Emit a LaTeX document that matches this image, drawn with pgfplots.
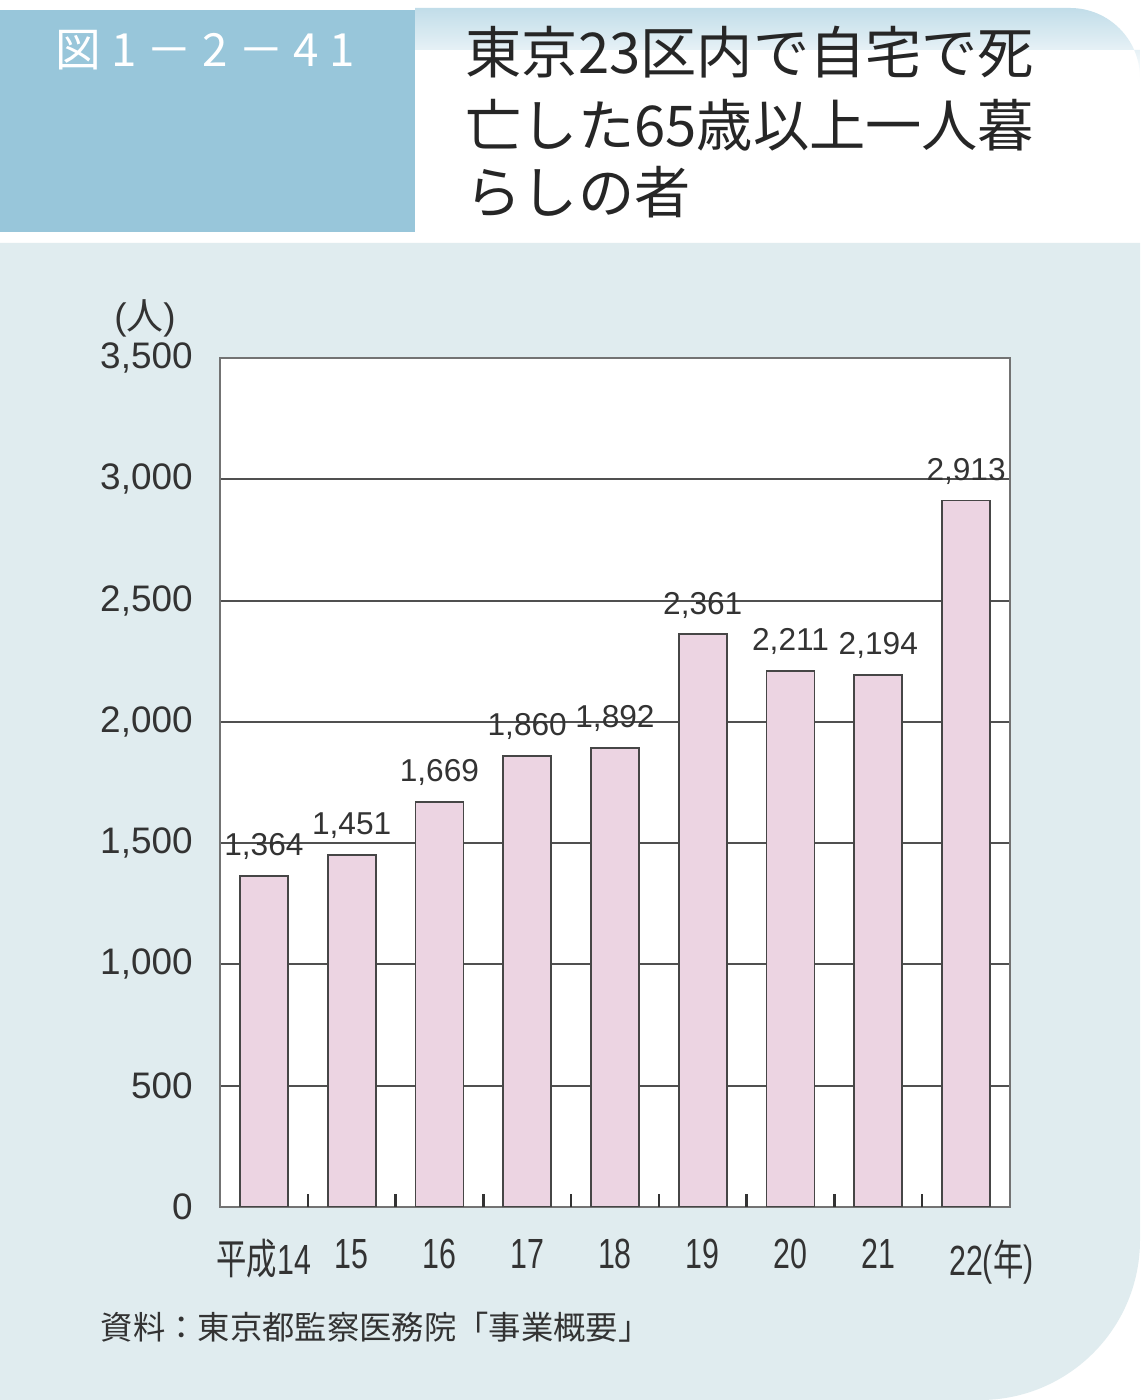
\documentclass[border=0pt]{standalone}
\usepackage{fontspec}
\setmainfont{Liberation Sans}
\newfontfamily\cjk{Noto Sans CJK JP}
\newfontfamily\cjkfig[LetterSpace=22]{Noto Sans CJK JP}
\usepackage{graphicx}
\usepackage{pgfplots}
\pgfplotsset{compat=1.18}

\definecolor{bgpanel}{RGB}{224,236,239}
\definecolor{hdrblue}{RGB}{152,198,218}
\definecolor{barpink}{RGB}{236,212,226}
\definecolor{txt}{RGB}{51,51,51}
\definecolor{gridc}{RGB}{80,80,80}

\newcommand{\xl}[1]{\scalebox{0.72}[1]{#1}}

\begin{document}
\begin{tikzpicture}
\path[use as bounding box] (0,0) rectangle (11.4,14);
\fill[white] (0,0) rectangle (11.4,14);
% header band and box
\shade[top color=hdrblue!60, bottom color=white]
  (4.15,13.5) -- (4.15,13.92) -- (10.7,13.92) arc[start angle=90,end angle=0,radius=0.7] -- (11.4,13.5) -- cycle;
\fill[hdrblue] (0,11.68) rectangle (4.15,13.9);
% main panel
\fill[bgpanel] (0,11.57) -- (11.4,11.57) -- (11.4,1.6)
  arc[start angle=0,end angle=-90,radius=1.6] -- (0,0) -- cycle;

\node[anchor=west, text=white, font={\cjkfig\fontsize{13}{13}\selectfont}, inner sep=0]
  at (0.55,13.50) {図1－2－41};
\node[anchor=west, text=black!85, font={\cjk\fontsize{16}{16}\selectfont}, inner sep=0]
  at (4.65,13.48) {東京23区内で自宅で死};
\node[anchor=west, text=black!85, font={\cjk\fontsize{16}{16}\selectfont}, inner sep=0]
  at (4.65,12.75) {亡した65歳以上一人暮};
\node[anchor=west, text=black!85, font={\cjk\fontsize{16}{16}\selectfont}, inner sep=0]
  at (4.65,12.08) {らしの者};

\node[text=txt, font=\fontsize{10.5}{12}\selectfont] at (1.45,10.82) {({\cjk 人})};

\begin{axis}[
  at={(2.20cm,1.93cm)}, anchor=south west,
  scale only axis, width=7.9cm, height=8.49cm,
  ybar, bar width=0.48cm,
  xmin=-0.5, xmax=8.5, ymin=0, ymax=3500,
  xtick={0,...,8},
  xticklabels={\xl{{\cjk 平成}14}, \xl{15}, \xl{16}, \xl{17}, \xl{18}, \xl{19}, \xl{20}, \xl{21}, \xl{22\rlap{({\cjk 年})}}},
  ytick={0,500,...,3500},
  tick pos=left,
  major tick length=0pt,
  extra x ticks={0.5,1.5,...,7.5},
  extra x tick labels={},
  extra x tick style={major tick length=0.13cm, tick align=inside,
    tick style={black!80, line width=0.7pt}},
  axis background/.style={fill=white},
  axis line style={draw=gray!90!black, line width=0.6pt},
  ymajorgrids, grid style={gridc, line width=0.6pt},
  /pgf/number format/1000 sep={,},
  /pgf/number format/assume math mode=true,
  yticklabel style={font=\fontsize{10.5}{12}\selectfont, text=txt, xshift=-0.15cm},
  xticklabel style={font=\fontsize{12}{12}\selectfont, text=txt, yshift=-0.2cm},
  nodes near coords,
  every node near coord/.append style={font=\fontsize{9}{10}\selectfont, text=txt, yshift=1pt},
]
\addplot[fill=barpink, draw=gray!55!black, line width=0.5pt] coordinates {
  (0,1364) (1,1451) (2,1669) (3,1860) (4,1892) (5,2361) (6,2211) (7,2194) (8,2913)
};
\end{axis}

\node[anchor=west, text=txt, font={\cjk\fontsize{9.2}{10}\selectfont}, inner sep=0]
  at (1.00,0.73) {資料：東京都監察医務院「事業概要」};
\end{tikzpicture}
\end{document}
